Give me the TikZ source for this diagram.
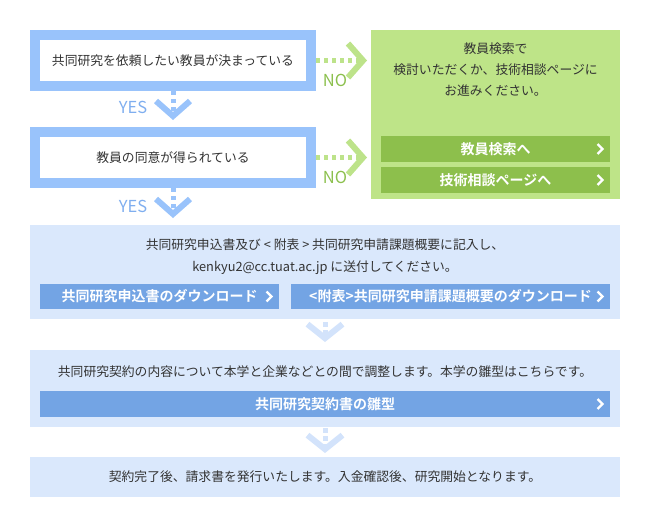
\documentclass[tikz,border=0pt]{standalone}
\usepackage{fontspec}
\setmainfont{Noto Sans CJK JP}[BoldFont={* Bold}]
\usetikzlibrary{arrows.meta}

\definecolor{frameblue}{HTML}{99C3FB}
\definecolor{paleblue}{HTML}{DAE8FC}
\definecolor{paleflowblue}{HTML}{D3E3FB}
\definecolor{btnblue}{HTML}{73A4E4}
\definecolor{palegreen}{HTML}{BEE488}
\definecolor{btngreen}{HTML}{8DBF4C}
\definecolor{dotgreen}{HTML}{BDE38A}
\definecolor{nogreen}{HTML}{8CC04E}
\definecolor{yesblue}{HTML}{7FAEEF}
\definecolor{textgray}{HTML}{333333}

\tikzset{
    question/.style={draw=frameblue, line width=10pt, fill=white, inner sep=0pt,
        outer sep=5pt, minimum width=276pt, minimum height=51pt},
    panel/.style={fill=paleblue, inner sep=0pt, outer sep=0pt, minimum width=590pt},
    chevron/.style={path picture={
        \draw[white, line width=2.2pt]
            ([xshift=-12.5pt, yshift=5pt]path picture bounding box.east)
            -- ++(5pt,-5pt) -- ++(-5pt,-5pt);}},
    btn/.style={chevron, fill=btnblue, text=white, inner sep=0pt, outer sep=0pt,
        minimum height=25pt, font=\fontsize{14}{16}\selectfont\bfseries},
    gbtn/.style={btn, fill=btngreen, minimum width=229pt, minimum height=26pt},
    flowlabel/.style={font=\fontsize{16.5}{17}\selectfont},
    yesflow/.style={draw=frameblue, line width=5pt, dash pattern=on 4pt off 4pt,
        shorten >=7pt, -{Straight Barb[length=15pt, width=34pt, line width=6pt]}},
    noflow/.style={yesflow, draw=dotgreen, shorten >=4pt},
    paleflow/.style={draw=paleflowblue, line width=5pt, dash pattern=on 5pt off 3pt,
        -{Straight Barb[length=14pt, width=35pt, line width=6pt]}}
}

\begin{document}
\begin{tikzpicture}[x=1pt, y=-1pt, text=textgray,
    font=\fontsize{12.8}{21}\selectfont]
    \useasboundingbox (0,0) rectangle (650,527);

    % Questions
    \node[question] (q1) at (173,60.5) {共同研究を依頼したい教員が決まっている};
    \node[question] (q2) at (173,157.5) {教員の同意が得られている};

    % Green area for NO
    \node[fill=palegreen, minimum width=249pt, minimum height=169pt, inner sep=0pt,
        outer sep=0pt] (noarea) at (495.5,114.5) {};
    \node[align=center] (notext) at (495.5,70)
        {教員検索で\\検討いただくか、技術相談ページに\\お進みください。};
    \node[gbtn] (search) at (495.5,149) {教員検索へ};
    \node[gbtn] (consult) at (495.5,180) {技術相談ページへ};

    % Steps
    \node[panel, minimum height=94pt] (apply) at (325,272) {};
    \node[align=center, font=\fontsize{12.8}{22}\selectfont] (applytext) at (325,257)
        {共同研究申込書及び < 附表 > 共同研究申請課題概要に記入し、\\kenkyu2@cc.tuat.ac.jp に送付してください。};
    \node[btn, minimum width=239pt] (dlform) at (159.5,296.5) {共同研究申込書のダウンロード};
    \node[btn, minimum width=319pt] (dlannex) at (450.5,296.5) {<附表>共同研究申請課題概要のダウンロード};

    \node[panel, minimum height=77pt] (contract) at (325,388.5) {};
    \node (contracttext) at (325,372)
        {共同研究契約の内容について本学と企業などとの間で調整します。本学の雛型はこちらです。};
    \node[btn, minimum width=570pt, minimum height=26pt] (template) at (325,404) {共同研究契約書の雛型};

    \node[panel, minimum height=40pt] (start) at (325,477)
        {契約完了後、請求書を発行いたします。入金確認後、研究開始となります。};

    % Draw the flow
    \draw[yesflow] (q1) -- (q2);
    \draw[yesflow] (q2) -- (q2 |- apply.north);
    \draw[noflow] (q1) -- (q1 -| noarea.west);
    \draw[noflow] (q2) -- (q2 -| noarea.west);
    \draw[paleflow, shorten <=3pt, shorten >=8pt] (apply) -- (contract);
    \draw[paleflow, shorten <=1pt, shorten >=4pt] (contract) -- (start);

    % Labels on the flow
    \node[flowlabel, text=yesblue] (yes1) at (133,107) {YES};
    \node[flowlabel, text=yesblue] (yes2) at (133,206) {YES};
    \node[flowlabel, text=nogreen] (no1) at (335,80) {NO};
    \node[flowlabel, text=nogreen] (no2) at (335,177) {NO};
\end{tikzpicture}
\end{document}
